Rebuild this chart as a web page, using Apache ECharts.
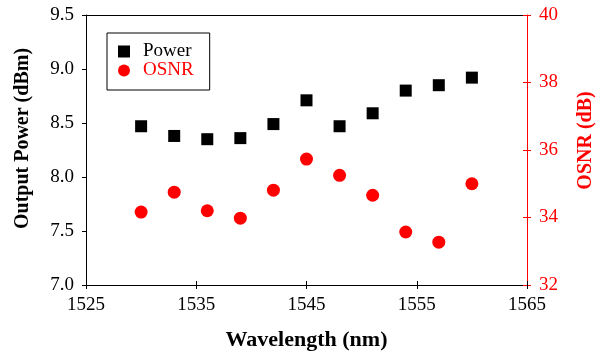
<!DOCTYPE html>
<html>
<head>
<meta charset="utf-8">
<script src="https://cdn.jsdelivr.net/npm/echarts@6/dist/echarts.min.js"></script>
<style>
  html, body { margin: 0; padding: 0; background: #fff; }
  #chart { width: 604px; height: 356px; }
</style>
</head>
<body>
<div id="chart"></div>
<script>
"use strict"
const wavelength = [1530, 1533, 1536, 1539, 1542, 1545, 1548, 1551, 1554, 1557, 1560];
const power = [8.47, 8.38, 8.35, 8.36, 8.49, 8.71, 8.47, 8.59, 8.80, 8.85, 8.92];
const osnr = [34.16, 34.75, 34.20, 33.98, 34.81, 35.73, 35.25, 34.66, 33.57, 33.27, 35.00];
const serif = 'Liberation Serif';

let chart = echarts.init(document.getElementById("chart"));

let pts = function (ys) {
    return wavelength.map(function (x, i) { return [x, ys[i]]; });
};

chart.setOption({
    animation: false,
    textStyle: { fontFamily: serif },
    grid: { left: 86, right: 69, top: 15, bottom: 70 },
    legend: {
        orient: 'vertical',
        left: 107, top: 33,
        padding: [9, 16, 10, 11],
        itemGap: 0,
        itemWidth: 12, itemHeight: 12,
        borderColor: '#000', borderWidth: 1,
        textStyle: { fontFamily: serif, fontSize: 19, padding: [0, 0, 0, 8] },
        data: [
            { name: 'Power', icon: 'rect', textStyle: { color: '#000' } },
            { name: 'OSNR', icon: 'circle', textStyle: { color: '#f00' } }
        ]
    },
    xAxis: [{
        type: 'value', min: 1525, max: 1565, interval: 10,
        name: 'Wavelength (nm)', nameLocation: 'middle', nameGap: 44,
        nameTextStyle: { fontFamily: serif, fontSize: 22, fontWeight: 'bold', color: '#000' },
        axisLine: { onZero: false, lineStyle: { color: '#000', width: 1 } },
        axisTick: { length: 4, lineStyle: { color: '#000' } },
        axisLabel: { fontFamily: serif, fontSize: 19, color: '#000', margin: 11,
            formatter: function (v) { return String(v); } },
        splitLine: { show: false }
    }, {
        type: 'value', min: 1525, max: 1565, interval: 10, position: 'bottom',
        axisLine: { show: false },
        axisTick: { inside: true, length: 4, lineStyle: { color: '#000' } },
        axisLabel: { show: false },
        splitLine: { show: false }
    }, {
        type: 'value', min: 1525, max: 1565, position: 'top',
        axisLine: { onZero: false, lineStyle: { color: '#000', width: 1 } },
        axisTick: { show: false },
        axisLabel: { show: false },
        splitLine: { show: false }
    }],
    yAxis: [{
        type: 'value', min: 7.0, max: 9.5, interval: 0.5, position: 'left',
        name: 'Output Power (dBm)', nameLocation: 'middle', nameGap: 53, nameRotate: 90,
        nameTextStyle: { fontFamily: serif, fontSize: 20, fontWeight: 'bold', color: '#000',
            padding: [0, 0, 0, 23] },
        axisLine: { show: true, onZero: false, lineStyle: { color: '#000', width: 1 } },
        axisTick: { show: true, length: 4, lineStyle: { color: '#000' } },
        axisLabel: { fontFamily: serif, fontSize: 19, color: '#000', margin: 12,
            formatter: function (v) { return v.toFixed(1); } },
        splitLine: { show: false }
    }, {
        type: 'value', min: 32, max: 40, interval: 2, position: 'right',
        name: 'OSNR (dB)', nameLocation: 'middle', nameGap: 49, nameRotate: 90,
        nameTextStyle: { fontFamily: serif, fontSize: 20, fontWeight: 'bold', color: '#f00',
            padding: [0, 0, 0, 19] },
        axisLine: { show: true, onZero: false, lineStyle: { color: '#f00', width: 1 } },
        axisTick: { show: true, length: 4, lineStyle: { color: '#f00' } },
        axisLabel: { fontFamily: serif, fontSize: 19, color: '#f00', margin: 12 },
        splitLine: { show: false }
    }, {
        type: 'value', min: 32, max: 40, interval: 2, position: 'right',
        axisLine: { show: false },
        axisTick: { show: true, inside: true, length: 4, lineStyle: { color: '#f00' } },
        axisLabel: { show: false },
        splitLine: { show: false }
    }],
    series: [{
        name: 'Power', type: 'scatter', xAxisIndex: 0, yAxisIndex: 0,
        symbol: 'rect', symbolSize: 12,
        itemStyle: { color: '#000', opacity: 1 },
        data: pts(power)
    }, {
        name: 'OSNR', type: 'scatter', xAxisIndex: 0, yAxisIndex: 1,
        symbol: 'circle', symbolSize: 13,
        itemStyle: { color: '#f00', opacity: 1 },
        data: pts(osnr)
    }]
});
</script>
</body>
</html>
